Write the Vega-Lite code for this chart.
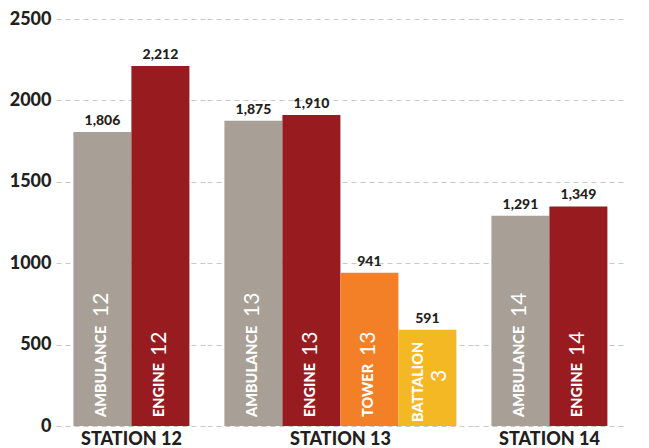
{
  "$schema": "https://vega.github.io/schema/vega-lite/v6.json",
  "padding": {"left": 9, "top": 10, "right": 0, "bottom": 0},
  "background": "white",
  "data": {
    "values": [
      {"station": "STATION 12", "name": "AMBULANCE", "num": "12", "value": 1806},
      {"station": "STATION 12", "name": "ENGINE", "num": "12", "value": 2212},
      {"station": "STATION 13", "name": "AMBULANCE", "num": "13", "value": 1875},
      {"station": "STATION 13", "name": "ENGINE", "num": "13", "value": 1910},
      {"station": "STATION 13", "name": "TOWER", "num": "13", "value": 941},
      {"station": "STATION 13", "name": "BATTALION", "num": "3", "value": 591},
      {"station": "STATION 14", "name": "AMBULANCE", "num": "14", "value": 1291},
      {"station": "STATION 14", "name": "ENGINE", "num": "14", "value": 1349}
    ]
  },
  "facet": {
    "column": {
      "field": "station",
      "type": "nominal",
      "title": null,
      "header": {
        "labelOrient": "bottom",
        "labelFont": "Lato",
        "labelFontSize": 18,
        "labelFontWeight": 900,
        "labelColor": "#231f20",
        "labelPadding": 5
      }
    }
  },
  "spacing": 0,
  "resolve": {"scale": {"x": "independent"}},
  "spec": {
    "width": {"step": 58},
    "height": 407,
    "encoding": {
      "x": {
        "field": "name",
        "type": "nominal",
        "sort": ["AMBULANCE", "ENGINE", "TOWER", "BATTALION"],
        "scale": {"paddingInner": 0, "paddingOuter": 0.3},
        "axis": null
      },
      "y": {
        "field": "value",
        "type": "quantitative",
        "scale": {"domain": [0, 2500], "nice": false},
        "axis": {
          "values": [0, 500, 1000, 1500, 2000, 2500],
          "format": "d",
          "title": null,
          "domain": false,
          "ticks": false,
          "grid": true,
          "gridDash": [5, 4],
          "gridColor": "#c8c8c8",
          "gridWidth": 1,
          "labelFont": "Lato",
          "labelFontSize": 18,
          "labelFontWeight": 900,
          "labelColor": "#231f20",
          "labelPadding": 5
        }
      }
    },
    "layer": [
      {
        "mark": {"type": "bar"},
        "encoding": {
          "color": {
            "field": "name",
            "type": "nominal",
            "scale": {
              "domain": ["AMBULANCE", "ENGINE", "TOWER", "BATTALION"],
              "range": ["#a89f96", "#981b20", "#f37f27", "#f3b823"]
            },
            "legend": null
          }
        }
      },
      {
        "mark": {"type": "text", "baseline": "bottom", "dy": -4, "font": "Lato", "fontSize": 14, "fontWeight": 900, "color": "#231f20"},
        "encoding": {"text": {"field": "value", "type": "quantitative", "format": ","}}
      },
      {
        "transform": [{"filter": "datum.name !== 'BATTALION'"}],
        "mark": {"type": "text", "angle": 270, "align": "left", "baseline": "middle", "dx": 9, "font": "Lato", "fontSize": 14.5, "fontWeight": 900, "color": "white"},
        "encoding": {"y": {"datum": 0}, "text": {"field": "name"}}
      },
      {
        "transform": [{"filter": "datum.name === 'BATTALION'"}],
        "mark": {"type": "text", "angle": 270, "align": "left", "baseline": "middle", "dx": 4, "dy": -8, "font": "Lato", "fontSize": 14.5, "fontWeight": 900, "color": "white"},
        "encoding": {"y": {"datum": 0}, "text": {"field": "name"}}
      },
      {
        "transform": [{"filter": "datum.name === 'AMBULANCE'"}],
        "mark": {"type": "text", "angle": 270, "align": "left", "baseline": "middle", "dx": 109, "font": "Lato", "fontSize": 21, "fontWeight": 400, "color": "white"},
        "encoding": {"y": {"datum": 0}, "text": {"field": "num"}}
      },
      {
        "transform": [{"filter": "datum.name === 'ENGINE' || datum.name === 'TOWER'"}],
        "mark": {"type": "text", "angle": 270, "align": "left", "baseline": "middle", "dx": 70, "font": "Lato", "fontSize": 21, "fontWeight": 400, "color": "white"},
        "encoding": {"y": {"datum": 0}, "text": {"field": "num"}}
      },
      {
        "transform": [{"filter": "datum.name === 'BATTALION'"}],
        "mark": {"type": "text", "angle": 270, "align": "center", "baseline": "middle", "dx": 50, "dy": 13, "font": "Lato", "fontSize": 21, "fontWeight": 400, "color": "white"},
        "encoding": {"y": {"datum": 0}, "text": {"field": "num"}}
      }
    ]
  },
  "config": {"view": {"stroke": null}}
}
